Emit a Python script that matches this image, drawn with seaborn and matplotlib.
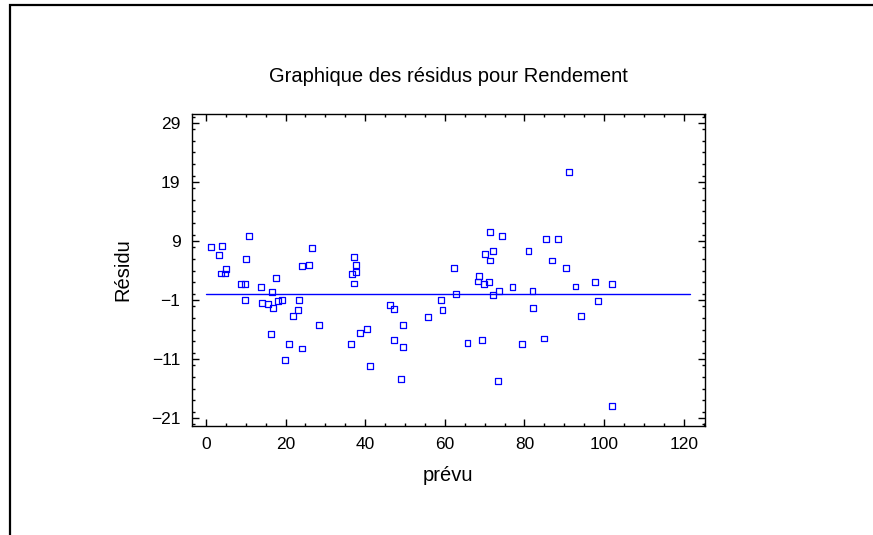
import matplotlib
matplotlib.use("Agg")
import matplotlib.pyplot as plt
from matplotlib.ticker import MultipleLocator, FixedLocator
from matplotlib.patches import Rectangle
import pandas as pd
import seaborn as sns

# values
prevu = [1.3, 4.0, 3.2, 10.8, 10.0, 3.7, 4.9, 5.1, 17.6, 26.6,
         24.2, 25.8, 37.3, 37.6, 36.8, 37.6, 62.2, 68.6, 71.4, 74.3,
         70.1, 72.0, 71.4, 81.0, 91.1, 85.3, 88.5, 86.9, 90.4, 8.9,
         9.9, 13.9, 16.6, 9.8, 14.1, 15.7, 16.9, 18.2, 19.2, 23.4,
         23.1, 21.9, 28.4, 16.3, 20.9, 24.2, 19.9, 36.5, 38.8, 37.3,
         40.5, 41.3, 46.2, 47.3, 49.6, 47.3, 49.6, 48.9, 55.8, 59.1,
         59.4, 62.8, 65.7, 69.3, 68.3, 69.9, 71.2, 72.2, 73.6, 73.3,
         77.0, 79.3, 82.0, 82.2, 85.0, 92.8, 94.3, 97.7, 98.5, 101.9,
         101.9]
residu = [8.0, 8.2, 6.7, 9.8, 6.0, 3.5, 3.5, 4.2, 2.8, 7.85,
          4.7, 5.0, 6.3, 4.9, 3.35, 3.7, 4.5, 3.0, 10.5, 9.8,
          6.8, 7.3, 5.7, 7.3, 20.7, 9.4, 9.4, 5.7, 4.5, 1.65,
          1.65, 1.2, 0.3, -1.0, -1.5, -1.7, -2.35, -1.2, -1.0, -1.0,
          -2.7, -3.7, -5.2, -6.8, -8.5, -9.2, -11.2, -8.5, -6.5, 1.8,
          -5.85, -12.2, -1.85, -2.5, -5.2, -7.8, -9.0, -14.4, -3.9, -1.0,
          -2.7, 0.1, -8.3, -7.7, 2.15, 1.65, 2.0, -0.2, 0.5, -14.7,
          1.15, -8.5, 0.5, -2.35, -7.5, 1.3, -3.7, 2.0, -1.2, 1.65,
          -18.9]
y_ticks = [-21, -11, -1, 9, 19, 29]
x_ticks = [0, 20, 40, 60, 80, 100, 120]

df = pd.DataFrame({"prevu": prevu, "residu": residu})

sns.set_style("ticks")
plt.rcParams["font.family"] = ["Liberation Sans", "DejaVu Sans"]
plt.rcParams["text.color"] = "black"
plt.rcParams["axes.labelcolor"] = "black"
plt.rcParams["xtick.labelcolor"] = "black"
plt.rcParams["ytick.labelcolor"] = "black"

fig = plt.figure(figsize=(8.73, 5.35), dpi=100)
ax = fig.add_axes([0.2194, 0.2045, 0.5876, 0.5824])

# outer frame of the graphics window
fig.patches.append(Rectangle((10 / 873, -0.1), 1.2, 1 - 5 / 535 + 0.1,
                             transform=fig.transFigure, fill=False,
                             edgecolor="black", linewidth=1.6))

ax.plot([0, 121.5], [0, 0], color="#0000ff", linewidth=1)
sns.scatterplot(data=df, x="prevu", y="residu", ax=ax, marker="s", s=18,
                facecolor="none", edgecolor="#0000ff", linewidth=0.9)

ax.set_xlim(-3.6, 125.2)
ax.set_ylim(-22.25, 30.5)
ax.xaxis.set_major_locator(FixedLocator(x_ticks))
ax.xaxis.set_minor_locator(MultipleLocator(5))
ax.yaxis.set_major_locator(FixedLocator(y_ticks))
ax.yaxis.set_minor_locator(MultipleLocator(2))
ax.tick_params(which="both", direction="in", top=True, right=True,
               labelsize=12.5, width=1, color="black", pad=8)
ax.tick_params(which="major", length=5)
ax.tick_params(which="minor", length=2.5)
for sp in ax.spines.values():
    sp.set_linewidth(1)
    sp.set_color("black")

ax.set_xlabel("prévu", fontsize=14.5, labelpad=10)
ax.set_ylabel("Résidu", fontsize=14.5, labelpad=13)
ax.set_title("Graphique des résidus pour Rendement", fontsize=14.5, pad=23)

fig.savefig("out.png", dpi=100)
